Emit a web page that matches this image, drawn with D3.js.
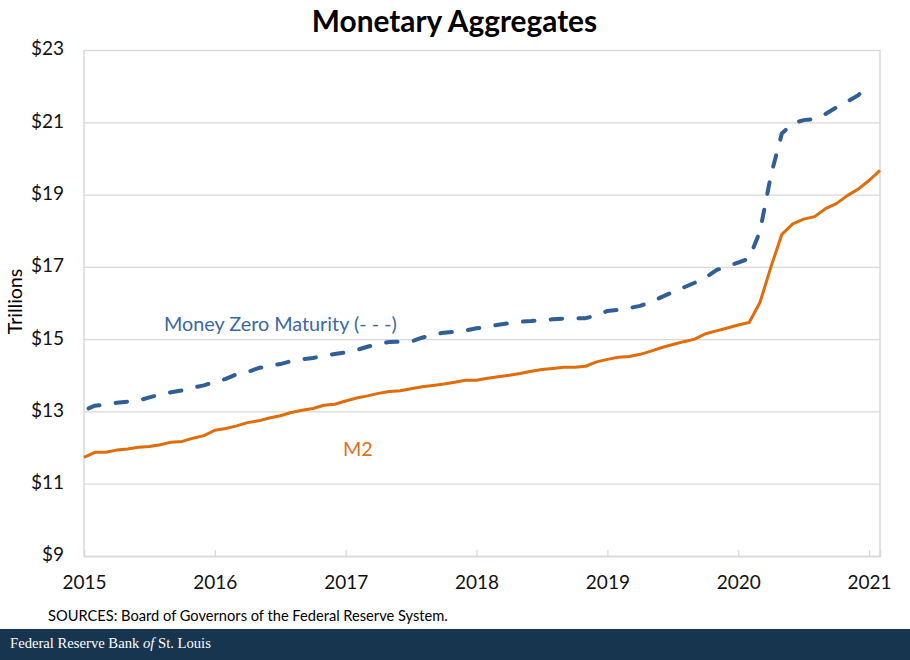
<!DOCTYPE html>
<html><head><meta charset="utf-8">
<script src="https://cdn.jsdelivr.net/npm/d3@7"></script>
<style>
html,body{margin:0;padding:0;background:#fff;}
svg{display:block;}
text{font-family:Lato,"Open Sans",sans-serif;}
</style></head><body>
<svg id="c" width="910" height="660"></svg>
<script>
const title = "Monetary Aggregates";
const yTicks = [9, 11, 13, 15, 17, 19, 21, 23];
const yearLabels = ["2015", "2016", "2017", "2018", "2019", "2020", "2021"];
const m2 = [11.73,11.87,11.87,11.93,11.96,12.01,12.03,12.08,12.15,12.17,12.26,12.33,
  12.48,12.53,12.60,12.69,12.74,12.82,12.88,12.97,13.03,13.08,13.17,13.20,
  13.29,13.37,13.43,13.50,13.55,13.57,13.63,13.68,13.72,13.76,13.81,13.86,
  13.86,13.92,13.96,14.00,14.05,14.11,14.16,14.19,14.22,14.22,14.25,14.37,
  14.44,14.50,14.52,14.58,14.67,14.77,14.85,14.93,15.00,15.15,15.23,15.31,
  15.39,15.46,16.02,17.00,17.90,18.19,18.32,18.39,18.61,18.75,18.97,19.15,
  19.39,19.67];
const mzm = [13.03,13.16,13.18,13.24,13.27,13.30,13.39,13.47,13.53,13.58,13.66,13.72,
  13.82,13.90,14.03,14.09,14.20,14.26,14.31,14.39,14.44,14.48,14.54,14.59,
  14.63,14.70,14.79,14.87,14.92,14.93,14.93,15.04,15.12,15.18,15.20,15.24,
  15.30,15.34,15.40,15.44,15.48,15.50,15.53,15.55,15.57,15.58,15.58,15.66,
  15.78,15.81,15.86,15.92,16.03,16.17,16.30,16.43,16.56,16.70,16.91,17.02,
  17.12,17.23,17.99,19.54,20.69,20.97,21.06,21.09,21.23,21.41,21.57,21.75,
  22.03];
const months = d3.range(m2.length);
const mzmLabel = "Money Zero Maturity (- - -)";
const m2Label = "M2";
const yLabel = "Trillions";
const sources = "SOURCES: Board of Governors of the Federal Reserve System.";
const bank = ["Federal Reserve Bank ", "of", " St. Louis"];

const W = 910, H = 660, L = 84, R = 880, T = 50, B = 556;
const GRID = "#d9d9d9", INK = "#111";
const x = d3.scalePoint().domain(months).range([L, R]);
const y = d3.scaleLinear().domain([9, 23]).range([B, T]);
const svg = d3.select("#c");

svg.append("text").attr("x", 454.5).attr("y", 32).attr("text-anchor", "middle")
  .attr("font-size", 29.8).attr("font-weight", 700).attr("fill", "#000").text(title);

// grid + left axis
const gy = svg.append("g").attr("transform", `translate(${L},0)`)
  .call(d3.axisLeft(y).tickValues(yTicks).tickSize(0).tickPadding(20).tickFormat(d => "$" + d));
gy.select(".domain").remove();
gy.selectAll("text").attr("font-size", 19).attr("fill", INK).attr("dy", "0.26em").style("font-family", "Lato");
gy.selectAll(".tick").append("line").attr("x1", 0).attr("x2", R - L)
  .attr("stroke", GRID).attr("stroke-width", 1.3);

// frame
svg.append("line").attr("x1", L).attr("x2", L).attr("y1", T).attr("y2", B).attr("stroke", GRID).attr("stroke-width", 1.5);
svg.append("line").attr("x1", R).attr("x2", R).attr("y1", T).attr("y2", B).attr("stroke", GRID).attr("stroke-width", 1.5);

// bottom axis
const yearTicks = months.filter(i => i % 12 === 0);
const gx = svg.append("g").attr("transform", `translate(0,${B})`)
  .call(d3.axisBottom(x).tickValues(yearTicks).tickSize(-6).tickPadding(20)
    .tickFormat(i => yearLabels[i / 12]));
gx.select(".domain").attr("stroke", GRID).attr("stroke-width", 1.5);
gx.selectAll("line").attr("stroke", GRID).attr("stroke-width", 1.2);
gx.selectAll("text").attr("font-size", 19).attr("fill", INK).style("font-family", "Lato");

const line = d3.line().x((d, i) => x(i)).y(d => y(d));
svg.append("path").datum(mzm).attr("d", line).attr("fill", "none")
  .attr("stroke", "#2f5f96").attr("stroke-width", 4).attr("stroke-linecap", "round")
  .attr("stroke-linejoin", "round").attr("stroke-dasharray", "11.5 16.3").attr("stroke-dashoffset", -5);
svg.append("path").datum(m2).attr("d", line).attr("fill", "none")
  .attr("stroke", "#e06c0a").attr("stroke-width", 3).attr("stroke-linejoin", "round");

svg.append("text").attr("x", 164).attr("y", 331).attr("font-size", 19.8)
  .attr("fill", "#3a699f").text(mzmLabel);
svg.append("text").attr("x", 343).attr("y", 456).attr("font-size", 19.8)
  .attr("fill", "#e0701c").text(m2Label);

svg.append("text").attr("transform", "translate(22,301.5) rotate(-90)").attr("text-anchor", "middle")
  .attr("font-size", 19.5).attr("fill", "#000").text(yLabel);
svg.append("text").attr("x", 48).attr("y", 621).attr("font-size", 14.65).attr("fill", "#000").text(sources);

svg.append("rect").attr("x", 0).attr("y", 629).attr("width", W).attr("height", H - 629).attr("fill", "#17354f");
const ft = svg.append("text").attr("x", 10).attr("y", 648).attr("font-size", 14.65).attr("fill", "#fff")
  .style("font-family", "'Liberation Serif',serif");
ft.append("tspan").text(bank[0]);
ft.append("tspan").attr("font-style", "italic").text(bank[1]);
ft.append("tspan").text(bank[2]);
</script>
</body></html>
